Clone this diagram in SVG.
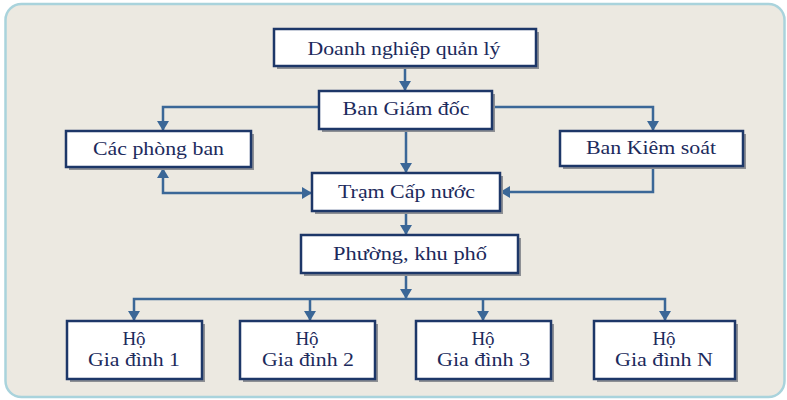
<svg xmlns="http://www.w3.org/2000/svg" width="787" height="400" viewBox="0 0 787 400">
<defs>
<marker id="ah" viewBox="0 0 10 12" refX="10" refY="6" markerWidth="10" markerHeight="12" markerUnits="userSpaceOnUse" orient="auto-start-reverse">
<path d="M0,0 L10,6 L0,12 z" fill="#3b6797"/>
</marker>
</defs>
<style>
.bg{fill:#ece9e1;stroke:#a9d3dc;stroke-width:2.5}
.sh{fill:#8e9094}
.bx{fill:#ffffff;stroke:#1d3768;stroke-width:2.5}
.t{font-family:"Liberation Serif","Times New Roman",serif;font-size:19px;fill:#1c2a5c;text-anchor:middle}
.c{fill:none;stroke:#3b6797;stroke-width:2.5}
.a{marker-end:url(#ah)}
</style>
<rect class="bg" x="5.5" y="4" width="779" height="393" rx="16"/>
<g id="connectors">
<path class="c a" d="M405,66 V91"/>
<path class="c a" d="M319,107 H163 V131"/>
<path class="c a" d="M492,107 H653 V131"/>
<path class="c a" d="M406,129 V173"/>
<path class="c a" d="M163,168 V193 H312" marker-start="url(#ah)"/>
<path class="c a" d="M653,166 V192 H500"/>
<path class="c a" d="M406,211 V235"/>
<path class="c a" d="M406,273 V299"/>
<path class="c a" d="M134,321 V299 H665 V321" marker-start="url(#ah)"/>
<path class="c a" d="M310,299 V321"/>
<path class="c a" d="M483,299 V321"/>
</g>
<g id="doanh-nghiep">
<rect class="sh" x="277" y="32" width="262" height="37"/>
<rect class="bx" x="274" y="29" width="262" height="37"/>
<text class="t" x="404" y="55" textLength="193" lengthAdjust="spacingAndGlyphs">Doanh nghiệp quản lý</text>
</g>
<g id="ban-giam-doc">
<rect class="sh" x="322" y="94" width="173" height="38"/>
<rect class="bx" x="319" y="91" width="173" height="38"/>
<text class="t" x="406" y="115" textLength="127" lengthAdjust="spacingAndGlyphs">Ban Giám đốc</text>
</g>
<g id="cac-phong-ban">
<rect class="sh" x="69" y="134" width="185" height="36"/>
<rect class="bx" x="66" y="131" width="185" height="36"/>
<text class="t" x="158.5" y="155" textLength="131" lengthAdjust="spacingAndGlyphs">Các phòng ban</text>
</g>
<g id="ban-kiem-soat">
<rect class="sh" x="563" y="134" width="183" height="35"/>
<rect class="bx" x="560" y="131" width="183" height="35"/>
<text class="t" x="651" y="154" textLength="130" lengthAdjust="spacingAndGlyphs">Ban Kiêm soát</text>
</g>
<g id="tram-cap-nuoc">
<rect class="sh" x="315" y="176" width="188" height="38"/>
<rect class="bx" x="312" y="173" width="188" height="38"/>
<text class="t" x="406.5" y="198" textLength="137" lengthAdjust="spacingAndGlyphs">Trạm Cấp nước</text>
</g>
<g id="phuong-khu-pho">
<rect class="sh" x="304" y="238" width="217" height="38"/>
<rect class="bx" x="301" y="235" width="217" height="38"/>
<text class="t" x="410" y="260" textLength="154" lengthAdjust="spacingAndGlyphs">Phường, khu phố</text>
</g>
<g id="ho-1">
<rect class="sh" x="70" y="324" width="135" height="58"/>
<rect class="bx" x="67" y="321" width="135" height="58"/>
<text class="t" x="134" y="345">Hộ</text>
<text class="t" x="134" y="366" textLength="92" lengthAdjust="spacingAndGlyphs">Gia đình 1</text>
</g>
<g id="ho-2">
<rect class="sh" x="243" y="324" width="135" height="58"/>
<rect class="bx" x="240" y="321" width="135" height="58"/>
<text class="t" x="307" y="345">Hộ</text>
<text class="t" x="308" y="366" textLength="92" lengthAdjust="spacingAndGlyphs">Gia đình 2</text>
</g>
<g id="ho-3">
<rect class="sh" x="419" y="324" width="135" height="58"/>
<rect class="bx" x="416" y="321" width="135" height="58"/>
<text class="t" x="483" y="345">Hộ</text>
<text class="t" x="483.5" y="366" textLength="93" lengthAdjust="spacingAndGlyphs">Gia đình 3</text>
</g>
<g id="ho-n">
<rect class="sh" x="597" y="324" width="141" height="58"/>
<rect class="bx" x="594" y="321" width="141" height="58"/>
<text class="t" x="664" y="345">Hộ</text>
<text class="t" x="664" y="366" textLength="98" lengthAdjust="spacingAndGlyphs">Gia đình N</text>
</g>
</svg>
